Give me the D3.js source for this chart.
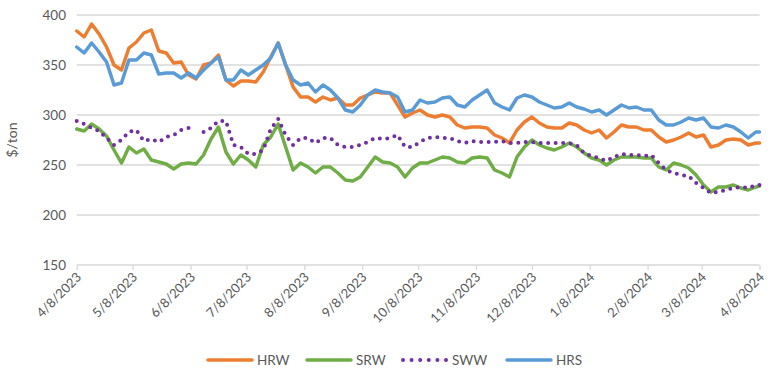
<!DOCTYPE html>
<html>
<head>
<meta charset="utf-8">
<script src="https://cdn.jsdelivr.net/npm/d3@7"></script>
<style>
  body { margin: 0; background: #fff; }
  svg text { font-family: Lato, "Open Sans", sans-serif; fill: #595959; }
</style>
</head>
<body>
<div id="chart"></div>
<script>
const width = 776;
const height = 375;

// sampled every 4 days, 4/8/2023 - 4/8/2024
const dates = ["2023-04-08","2023-04-12","2023-04-16","2023-04-20","2023-04-24","2023-04-28",
  "2023-05-02","2023-05-06","2023-05-10","2023-05-14","2023-05-18","2023-05-22","2023-05-26","2023-05-30",
  "2023-06-03","2023-06-07","2023-06-11","2023-06-15","2023-06-19","2023-06-23","2023-06-27",
  "2023-07-01","2023-07-05","2023-07-09","2023-07-13","2023-07-17","2023-07-21","2023-07-25","2023-07-29",
  "2023-08-02","2023-08-06","2023-08-10","2023-08-14","2023-08-18","2023-08-22","2023-08-26","2023-08-30",
  "2023-09-03","2023-09-07","2023-09-11","2023-09-15","2023-09-19","2023-09-23","2023-09-27",
  "2023-10-01","2023-10-05","2023-10-09","2023-10-13","2023-10-17","2023-10-21","2023-10-25","2023-10-29",
  "2023-11-02","2023-11-06","2023-11-10","2023-11-14","2023-11-18","2023-11-22","2023-11-26","2023-11-30",
  "2023-12-04","2023-12-08","2023-12-12","2023-12-16","2023-12-20","2023-12-24","2023-12-28",
  "2024-01-01","2024-01-05","2024-01-09","2024-01-13","2024-01-17","2024-01-21","2024-01-25","2024-01-29",
  "2024-02-02","2024-02-06","2024-02-10","2024-02-14","2024-02-18","2024-02-22","2024-02-26",
  "2024-03-01","2024-03-05","2024-03-09","2024-03-13","2024-03-17","2024-03-21","2024-03-25","2024-03-29",
  "2024-04-02","2024-04-06","2024-04-08"];

const hrw = [384,378,391,381,368,350,345,367,373,382,385,364,362,352,353,340,336,350,352,360,335,
  329,334,334,333,343,358,372,350,328,318,318,313,318,315,317,310,310,317,320,323,322,322,310,
  298,302,305,300,298,300,298,290,287,288,288,287,280,277,272,285,293,298,292,288,287,287,292,
  290,285,282,285,277,283,290,288,288,285,285,278,273,275,278,282,278,280,268,270,275,276,275,
  270,272,272];

const srw = [286,284,291,286,279,265,252,268,262,266,255,253,251,246,251,252,251,260,276,288,263,
  251,260,255,248,270,278,291,268,245,252,248,242,248,248,242,235,234,238,248,258,253,252,248,
  238,247,252,252,255,258,257,253,252,257,258,257,245,242,238,258,268,275,270,267,265,268,272,
  268,262,257,255,250,255,258,258,258,257,257,248,245,252,250,247,240,230,223,228,228,230,227,
  225,228,229];

const sww = [294,291,287,284,277,270,275,283,285,274,276,273,278,280,285,287,null,283,287,294,294,
  270,268,261,261,265,286,296,280,270,277,277,272,277,277,270,268,268,270,273,277,276,277,280,
  268,268,273,277,278,277,277,274,272,274,273,273,273,274,272,272,273,273,272,272,272,272,272,
  270,262,259,257,254,258,261,260,260,259,260,252,245,242,240,239,232,227,222,223,225,227,228,
  227,230,230];

const hrs = [368,362,372,363,353,330,332,355,355,362,360,341,342,342,337,342,337,345,352,358,335,
  335,345,340,345,350,357,372,350,335,330,332,323,330,325,317,305,303,310,320,325,323,322,318,
  303,305,315,312,313,317,318,310,308,315,320,325,312,308,305,317,320,318,313,310,307,308,312,
  308,306,303,305,300,305,310,307,308,305,305,295,290,290,293,297,295,297,288,287,290,288,283,
  277,283,283];

const tickLabels = ["4/8/2023","5/8/2023","6/8/2023","7/8/2023","8/8/2023","9/8/2023","10/8/2023",
  "11/8/2023","12/8/2023","1/8/2024","2/8/2024","3/8/2024","4/8/2024"];
const yTicks = [150, 200, 250, 300, 350, 400];

const seriesNames = ["HRW", "SRW", "SWW", "HRS"];
const seriesColors = ["#ED7D31", "#70AD47", "#7030A0", "#5B9BD5"];
const seriesValues = [hrw, srw, sww, hrs];

const parseISO = d3.timeParse("%Y-%m-%d");
const parseTick = d3.timeParse("%m/%d/%Y");
const fmtTick = d3.timeFormat("%-m/%-d/%Y");

const x = d3.scaleTime()
    .domain([parseTick("4/8/2023"), parseTick("4/8/2024")])
    .range([76.7, 759.5]);

const y = d3.scaleLinear()
    .domain([150, 400])
    .range([265, 15]);

var svg = d3.select("#chart")
    .append("svg")
    .attr("width", width)
    .attr("height", height);

// gridlines
svg.append("g")
    .selectAll("line")
    .data(yTicks)
    .join("line")
    .attr("x1", x.range()[0])
    .attr("x2", x.range()[1])
    .attr("y1", d => y(d))
    .attr("y2", d => y(d))
    .attr("stroke", "#d9d9d9")
    .attr("stroke-width", 1.3);

// y axis labels
svg.append("g")
    .selectAll("text")
    .data(yTicks)
    .join("text")
    .attr("x", 66)
    .attr("y", d => y(d))
    .attr("dy", "0.35em")
    .attr("text-anchor", "end")
    .style("font-size", "13.5px")
    .text(d => d);

svg.append("text")
    .attr("transform", "translate(17," + y(275) + ") rotate(-90)")
    .attr("text-anchor", "middle")
    .style("font-size", "14px")
    .text("$/ton");

// x axis
const xAxis = d3.axisBottom(x)
    .tickValues(tickLabels.map(parseTick))
    .tickFormat(fmtTick)
    .tickSize(5)
    .tickSizeOuter(0);

const gx = svg.append("g")
    .attr("transform", "translate(0," + y(150) + ")")
    .call(xAxis);
gx.select(".domain").remove();
gx.selectAll(".tick line").attr("stroke", "#d9d9d9").attr("stroke-width", 1.3);
gx.selectAll(".tick text")
    .attr("text-anchor", "end")
    .attr("dx", 0)
    .attr("dy", 0)
    .attr("y", 0)
    .attr("transform", "translate(5,13) rotate(-45)")
    .style("font-size", "13px")
    .style("font-family", "Lato, sans-serif")
    .attr("fill", "#595959");

// lines
const parsedDates = dates.map(parseISO);
const line = d3.line()
    .defined(d => d[1] != null)
    .x(d => x(d[0]))
    .y(d => y(d[1]));

seriesValues.forEach(function(vals, i) {
    const pts = vals.map((v, j) => [parsedDates[j], v]);
    const p = svg.append("path")
        .datum(pts)
        .attr("d", line)
        .attr("fill", "none")
        .attr("stroke", seriesColors[i])
        .attr("stroke-linejoin", "round");
    if (seriesNames[i] === "SWW") {
        p.attr("stroke-width", 4)
         .attr("stroke-linecap", "round")
         .attr("stroke-dasharray", "0 7.5");
    } else {
        p.attr("stroke-width", 3.5)
         .attr("stroke-linecap", "round");
    }
});

// legend
const legendX = [208, 307, 403, 507];
const legend = svg.append("g");
seriesNames.forEach(function(name, i) {
    const g = legend.append("g").attr("transform", "translate(" + legendX[i] + ",360)");
    const l = g.append("line")
        .attr("x1", 0).attr("x2", 44)
        .attr("y1", 0).attr("y2", 0)
        .attr("stroke", seriesColors[i]);
    if (name === "SWW") {
        l.attr("stroke-width", 4).attr("stroke-linecap", "round").attr("stroke-dasharray", "0 8.6");
    } else {
        l.attr("stroke-width", 3.5).attr("stroke-linecap", "round");
    }
    g.append("text")
        .attr("x", 49)
        .attr("y", 0)
        .attr("dy", "0.35em")
        .style("font-size", "13.5px")
        .text(name);
});
</script>
</body>
</html>
